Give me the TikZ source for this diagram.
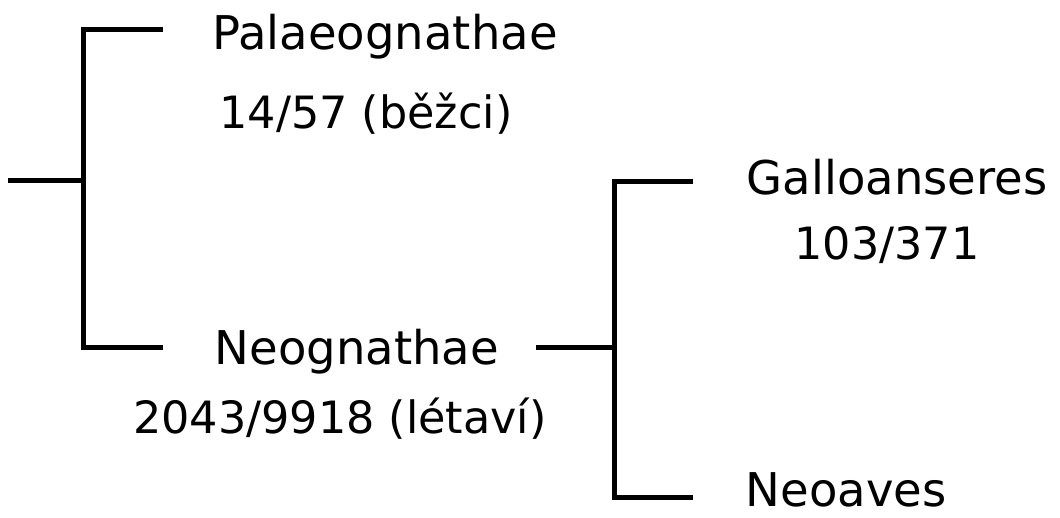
\documentclass[tikz,border=0pt]{standalone}
\usepackage{fontspec}
\setmainfont{DejaVu Sans}
\begin{document}
\begin{tikzpicture}[x=1pt,y=1pt,
  branch/.style={line width=5pt,line join=miter,line cap=rect},
  lbl/.style={inner sep=0pt,anchor=base,font=\fontsize{46.5}{50}\selectfont},
  num/.style={inner sep=0pt,anchor=base,font=\fontsize{44.5}{48}\selectfont}]
\useasboundingbox (0,0) rectangle (1060,518);
% labels
\node[lbl] (pal) at (385,468) {Palaeognathae};
\node[num] (paln) at (366,389) {14/57 (běžci)};
\node[lbl] (neo) at (357,153) {Neognathae};
\node[num] (neon) at (340,84) {2043/9918 (létaví)};
\node[lbl] (gal) at (897,323) {Galloanseres};
\node[num] (galn) at (887,258) {103/371};
\node[lbl] (neoa) at (846,11) {Neoaves};
% tree coordinates
\coordinate (r0) at (10,337);
\coordinate (j1) at (83,337);
\coordinate (tl) at (83,488);
\coordinate (pe) at (160,488);
\coordinate (bl) at (83,170);
\coordinate (ne) at (160,170);
\coordinate (ns) at (538,170);
\coordinate (j2) at (614,170);
\coordinate (tr) at (614,336);
\coordinate (ge) at (690,336);
\coordinate (br) at (614,20);
\coordinate (ae) at (690,20);
% branches
\draw[branch] (r0) -- (j1);
\draw[branch] (pe) -- (tl) -- (bl) -- (ne);
\draw[branch] (ns) -- (j2);
\draw[branch] (ge) -- (tr) -- (br) -- (ae);
\end{tikzpicture}
\end{document}
